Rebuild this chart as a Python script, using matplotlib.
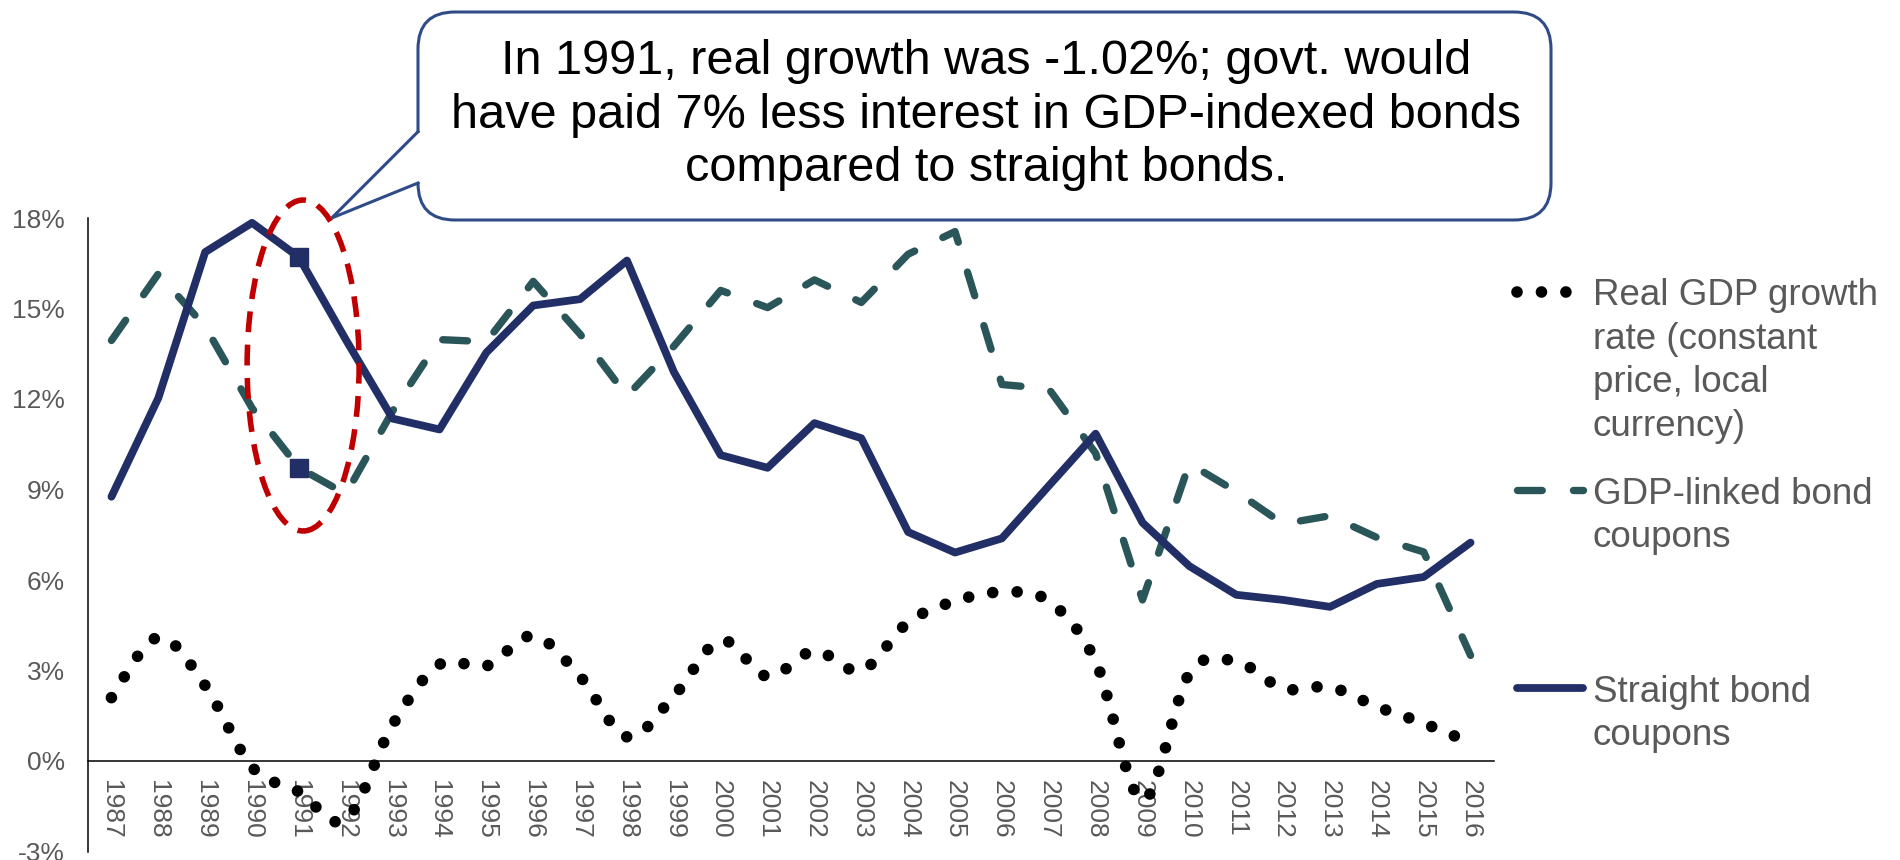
import numpy as np
import matplotlib
matplotlib.use("Agg")
import matplotlib.pyplot as plt
from matplotlib.path import Path
from matplotlib.patches import PathPatch, Ellipse, FancyBboxPatch, Polygon
from matplotlib.lines import Line2D

plt.rcParams['font.family'] = ['Liberation Sans', 'DejaVu Sans']
plt.rcParams['lines.scale_dashes'] = False  # dash lengths in points

# ------------------------
# data (%)
# ------------------------
years = list(range(1987, 2017))
real_gdp_growth = [2.1, 4.1, 2.5, -0.2, -1.02, -1.95, 1.2, 3.2, 3.15, 4.15,
                   2.8, 0.8, 2.15, 4.0, 2.8, 3.65, 3.0, 4.6, 5.3, 5.6,
                   5.3, 3.3, -1.3, 2.9, 3.3, 2.4, 2.45, 1.8, 1.25, 0.6]
gdp_linked_coupons = [13.94, 16.15, 14.4, 11.7, 9.72, 8.85, 11.6, 13.97, 13.9, 15.9,
                      14.15, 12.1, 13.75, 15.6, 15.03, 15.95, 15.2, 16.8, 17.55, 12.48,
                      12.34, 10.2, 5.34, 9.86, 8.93, 7.86, 8.13, 7.41, 6.93, 3.5]
straight_coupons = [8.76, 12.03, 16.87, 17.84, 16.7, 13.97, 11.35, 10.99, 13.54, 15.1,
                    15.31, 16.59, 12.9, 10.14, 9.72, 11.2, 10.7, 7.59, 6.91, 7.38,
                    9.12, 10.85, 7.9, 6.46, 5.51, 5.34, 5.11, 5.87, 6.1, 7.24]
y_ticks = [-3, 0, 3, 6, 9, 12, 15, 18]
highlight_year = 1991

legend_labels = ["Real GDP growth\nrate (constant\nprice, local\ncurrency)",
                 "GDP-linked bond\ncoupons",
                 "Straight bond\ncoupons"]
callout_text = ("In 1991, real growth was -1.02%; govt. would\n"
                "have paid 7% less interest in GDP-indexed bonds\n"
                "compared to straight bonds.")

NAVY = '#222F66'
TEAL = '#2B5659'
RED = '#C00000'
BOX_EDGE = '#2F4B88'
GREY = '#595959'

DOT_STYLE = dict(color='black', lw=8.4, linestyle=(0, (0.01, 17.6)), capstyle='round')
DASH_STYLE = dict(color=TEAL, lw=5.3, dashes=(17.8, 22.5), dash_capstyle='round')
SOLID_STYLE = dict(color=NAVY, lw=5.6, solid_capstyle='round', solid_joinstyle='round')


def smooth_path(xs, ys):
    # smoothed line like Excel's: bezier segments through each point
    pts = np.column_stack([xs, ys]).astype(float)
    n = len(pts)
    verts = [pts[0]]
    codes = [Path.MOVETO]
    for i in range(n - 1):
        p0 = pts[max(i - 1, 0)]
        p1 = pts[i]
        p2 = pts[i + 1]
        p3 = pts[min(i + 2, n - 1)]
        verts += [p1 + (p2 - p0) / 6, p2 - (p3 - p1) / 6, p2]
        codes += [Path.CURVE4] * 3
    return Path(verts, codes)


fig = plt.figure(figsize=(19, 8.6), dpi=100)
ax = fig.add_axes([88 / 1900, 8.5 / 860, (1494 - 88) / 1900, (851.5 - 218) / 860])
x = np.arange(len(years))

# axes (spine first: moving it resets the tick settings)
for s in ['top', 'right']:
    ax.spines[s].set_visible(False)
ax.spines['bottom'].set_position(('data', 0))
ax.spines['left'].set_linewidth(1.1)
ax.spines['bottom'].set_linewidth(1.1)
ax.patch.set_alpha(0)

ax.set_xlim(-0.5, len(years) - 0.5)
ax.set_ylim(y_ticks[0], y_ticks[-1])
ax.set_xticks(x)
ax.set_xticklabels([str(y) for y in years])
ax.set_yticks(y_ticks)
ax.set_yticklabels([f"{v}%" for v in y_ticks])
ax.tick_params(axis='both', length=0, labelsize=19, labelcolor=GREY)
ax.tick_params(axis='x', pad=13.7, labelrotation=-90)
ax.tick_params(axis='y', pad=16.5)

# series
ax.add_patch(PathPatch(smooth_path(x, real_gdp_growth), fill=False, zorder=2, **DOT_STYLE))
ax.plot(x, gdp_linked_coupons, zorder=3, **DASH_STYLE)
ax.plot(x, straight_coupons, zorder=4, **SOLID_STYLE)

hi = years.index(highlight_year)
ax.plot([x[hi], x[hi]], [straight_coupons[hi], gdp_linked_coupons[hi]], linestyle='none',
        marker='s', ms=13, color=NAVY, zorder=6)
ax.add_patch(Ellipse((x[hi] + 0.09, (straight_coupons[hi] + gdp_linked_coupons[hi]) / 2 - 0.1),
                     2.39, 10.97, fill=False, edgecolor=RED, lw=4,
                     linestyle=(0, (15, 9)), zorder=5, clip_on=False))

# ------------------------
# callout box (inches, from bottom-left)
# ------------------------
tr = fig.dpi_scale_trans
box = FancyBboxPatch((4.18, 6.40), 15.51 - 4.18, 8.48 - 6.40,
                     boxstyle="round,pad=0,rounding_size=0.37",
                     transform=tr, facecolor='white', edgecolor=BOX_EDGE, lw=2.2, zorder=10)
fig.add_artist(box)
fig.add_artist(Polygon([(4.17, 7.27), (3.33, 6.43), (4.17, 6.78), (4.22, 6.78), (4.22, 7.27)],
                       closed=True, transform=tr, facecolor='white', edgecolor='none', zorder=11))
fig.add_artist(Line2D([4.18, 3.317, 4.18], [7.283, 6.42, 6.77], transform=tr,
                      color=BOX_EDGE, lw=2.2, solid_joinstyle='miter', zorder=12))
fig.text(986 / 1900, 1 - 115 / 860, callout_text, ha='center', va='center',
         multialignment='center', fontsize=35, linespacing=1.25, color='black', zorder=13)

# ------------------------
# legend (manual, Excel style)
# ------------------------
handle_y = [291.7, 490, 688]
fig.add_artist(Line2D([1517 / 1900, 1568 / 1900], [1 - handle_y[0] / 860] * 2,
                      color='black', lw=8.4, dashes=(0.01, 17.6), dash_capstyle='round'))
fig.add_artist(Line2D([1516.7 / 1900, 1583.3 / 1900], [1 - handle_y[1] / 860] * 2, **DASH_STYLE))
fig.add_artist(Line2D([1516.7 / 1900, 1583.3 / 1900], [1 - handle_y[2] / 860] * 2, **SOLID_STYLE))
for label, hy in zip(legend_labels, handle_y):
    fig.text(1593 / 1900, 1 - (hy - 13.3) / 860, label, ha='left', va='top',
             fontsize=26.5, linespacing=1.31, color=GREY)

fig.savefig("out.png", dpi=100)
